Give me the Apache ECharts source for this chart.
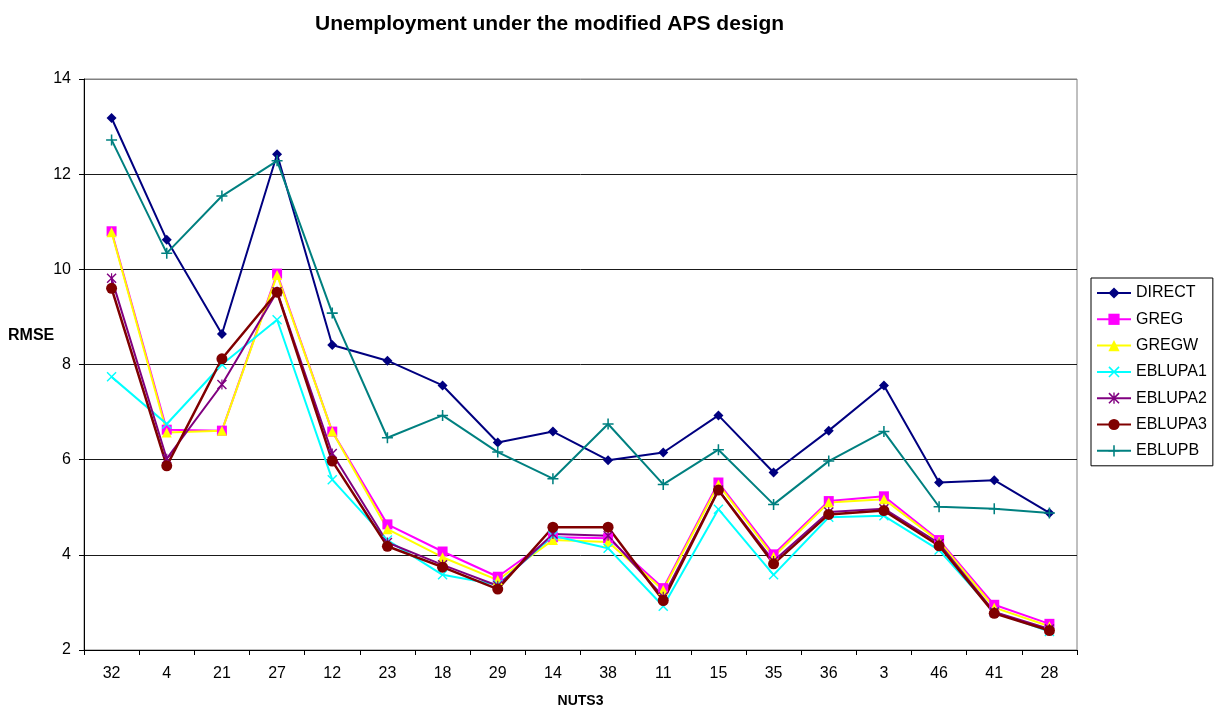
<!DOCTYPE html>
<html>
<head>
<meta charset="utf-8">
<title>Unemployment under the modified APS design</title>
<script src="https://cdn.jsdelivr.net/npm/echarts@6/dist/echarts.min.js"></script>
<style>
  html, body { margin: 0; padding: 0; background: #fff; }
  #chart { width: 1215px; height: 713px; }
</style>
</head>
<body>
<div id="chart"></div>
<script>
// NUTS3 areas, in plotting order
const categories = ['32', '4', '21', '27', '12', '23', '18', '29', '14', '38', '11', '15', '35', '36', '3', '46', '41', '28'];

// RMSE by estimator
const direct  = [13.18, 10.62, 8.64, 12.42, 8.41, 8.08, 7.56, 6.36, 6.59, 5.99, 6.15, 6.93, 5.73, 6.61, 7.56, 5.52, 5.57, 4.88];
const greg    = [10.80, 6.63, 6.61, 9.91, 6.59, 4.64, 4.07, 3.54, 4.37, 4.35, 3.30, 5.52, 4.01, 5.13, 5.23, 4.31, 2.95, 2.55];
const gregw   = [10.78, 6.57, 6.61, 9.88, 6.59, 4.54, 3.95, 3.47, 4.31, 4.27, 3.26, 5.48, 3.96, 5.10, 5.17, 4.28, 2.89, 2.50];
const eblupa1 = [7.74, 6.75, 8.00, 8.94, 5.58, 4.31, 3.58, 3.37, 4.40, 4.14, 2.92, 4.96, 3.58, 4.79, 4.82, 4.10, 2.80, 2.39];
const eblupa2 = [9.81, 6.02, 7.58, 9.53, 6.13, 4.26, 3.79, 3.35, 4.44, 4.40, 3.12, 5.36, 3.87, 4.90, 4.97, 4.24, 2.80, 2.44];
const eblupa3 = [9.60, 5.87, 8.12, 9.52, 5.97, 4.18, 3.74, 3.28, 4.58, 4.58, 3.04, 5.36, 3.81, 4.85, 4.93, 4.19, 2.77, 2.41];
const eblupb  = [12.72, 10.34, 11.54, 12.28, 9.08, 6.46, 6.93, 6.16, 5.60, 6.75, 5.48, 6.21, 5.06, 5.97, 6.59, 5.01, 4.97, 4.88];

// y axis ticks
const yMin = 2, yMax = 14, yStep = 2;

const FONT = '"Liberation Sans", Arial, sans-serif';

// marker shapes drawn as filled outlines
const CROSS = 'path://M0,1 L1,0 L5,4 L9,0 L10,1 L6,5 L10,9 L9,10 L5,6 L1,10 L0,9 L4,5 Z';
const STAR = 'path://M0,1 L1,0 L5,4 L9,0 L10,1 L6,5 L10,9 L9,10 L5,6 L1,10 L0,9 L4,5 Z M4.4,0 L5.6,0 L5.6,10 L4.4,10 Z';
const PLUS = 'path://M4.3,0 L5.7,0 L5.7,4.3 L10,4.3 L10,5.7 L5.7,5.7 L5.7,10 L4.3,10 L4.3,5.7 L0,5.7 L0,4.3 L4.3,4.3 Z';

function line(name, data, color, symbol, size, width) {
  return {
    name: name,
    type: 'line',
    data: data,
    symbol: symbol,
    symbolSize: size,
    showAllSymbol: true,
    lineStyle: { color: color, width: width },
    itemStyle: { color: color, borderWidth: 0 },
    emphasis: { disabled: true },
    animation: false
  };
}

const chart = echarts.init(document.getElementById('chart'), null, { renderer: 'canvas' });

const splitColors = [];
for (let v = yMin; v <= yMax; v += yStep) splitColors.push(v === yMax ? '#808080' : '#1a1a1a');

chart.setOption({
  backgroundColor: '#ffffff',
  animation: false,
  textStyle: { fontFamily: FONT },
  title: {
    text: 'Unemployment under the modified APS design',
    left: 315,
    top: 14,
    padding: 0,
    textStyle: { fontFamily: FONT, fontSize: 21, fontWeight: 'bold', color: '#000' }
  },
  legend: {
    orient: 'vertical',
    left: 1091,
    top: 278,
    padding: [7, 6, 7, 5],
    itemWidth: 34,
    itemHeight: 14,
    itemGap: 10.3,
    borderColor: '#000',
    borderWidth: 1,
    backgroundColor: '#fff',
    textStyle: { fontFamily: FONT, fontSize: 16, color: '#000', padding: [0, 0, 0, 0] },
    data: ['DIRECT', 'GREG', 'GREGW', 'EBLUPA1', 'EBLUPA2', 'EBLUPA3', 'EBLUPB']
  },
  grid: {
    left: 84,
    right: 138,
    top: 79,
    bottom: 61,
    show: true,
    borderColor: '#808080',
    borderWidth: 1,
    backgroundColor: '#fff',
    containLabel: false
  },
  graphic: [{
    type: 'text',
    left: 8,
    top: 328,
    style: { text: 'RMSE', font: 'bold 16px ' + FONT, fill: '#000' }
  }],
  xAxis: {
    type: 'category',
    data: categories,
    boundaryGap: true,
    name: 'NUTS3',
    nameLocation: 'middle',
    nameGap: 44,
    nameTextStyle: { fontFamily: FONT, fontSize: 14, fontWeight: 'bold', color: '#000' },
    axisLine: { show: true, lineStyle: { color: '#000', width: 1 } },
    axisTick: { show: true, inside: false, length: 5, alignWithLabel: false, interval: 0, lineStyle: { color: '#000' } },
    axisLabel: { interval: 0, margin: 16, fontFamily: FONT, fontSize: 16, color: '#000' },
    splitLine: { show: false }
  },
  yAxis: {
    type: 'value',
    min: yMin,
    max: yMax,
    interval: yStep,
    axisLine: { show: true, lineStyle: { color: '#000', width: 1 } },
    axisTick: { show: true, inside: false, length: 5, lineStyle: { color: '#000' } },
    axisLabel: { margin: 13, fontFamily: FONT, fontSize: 16, color: '#000' },
    splitLine: { show: true, lineStyle: { color: splitColors, width: 1 } }
  },
  series: [
    line('DIRECT', direct, '#000080', 'diamond', 10, 2),
    line('GREG', greg, '#ff00ff', 'rect', 10, 2),
    line('GREGW', gregw, '#ffff00', 'triangle', 10, 2),
    line('EBLUPA1', eblupa1, '#00ffff', CROSS, 10, 2),
    line('EBLUPA2', eblupa2, '#800080', STAR, 10, 2),
    line('EBLUPA3', eblupa3, '#800000', 'circle', 11, 2.5),
    line('EBLUPB', eblupb, '#008080', PLUS, 11, 2)
  ]
});
</script>
</body>
</html>
